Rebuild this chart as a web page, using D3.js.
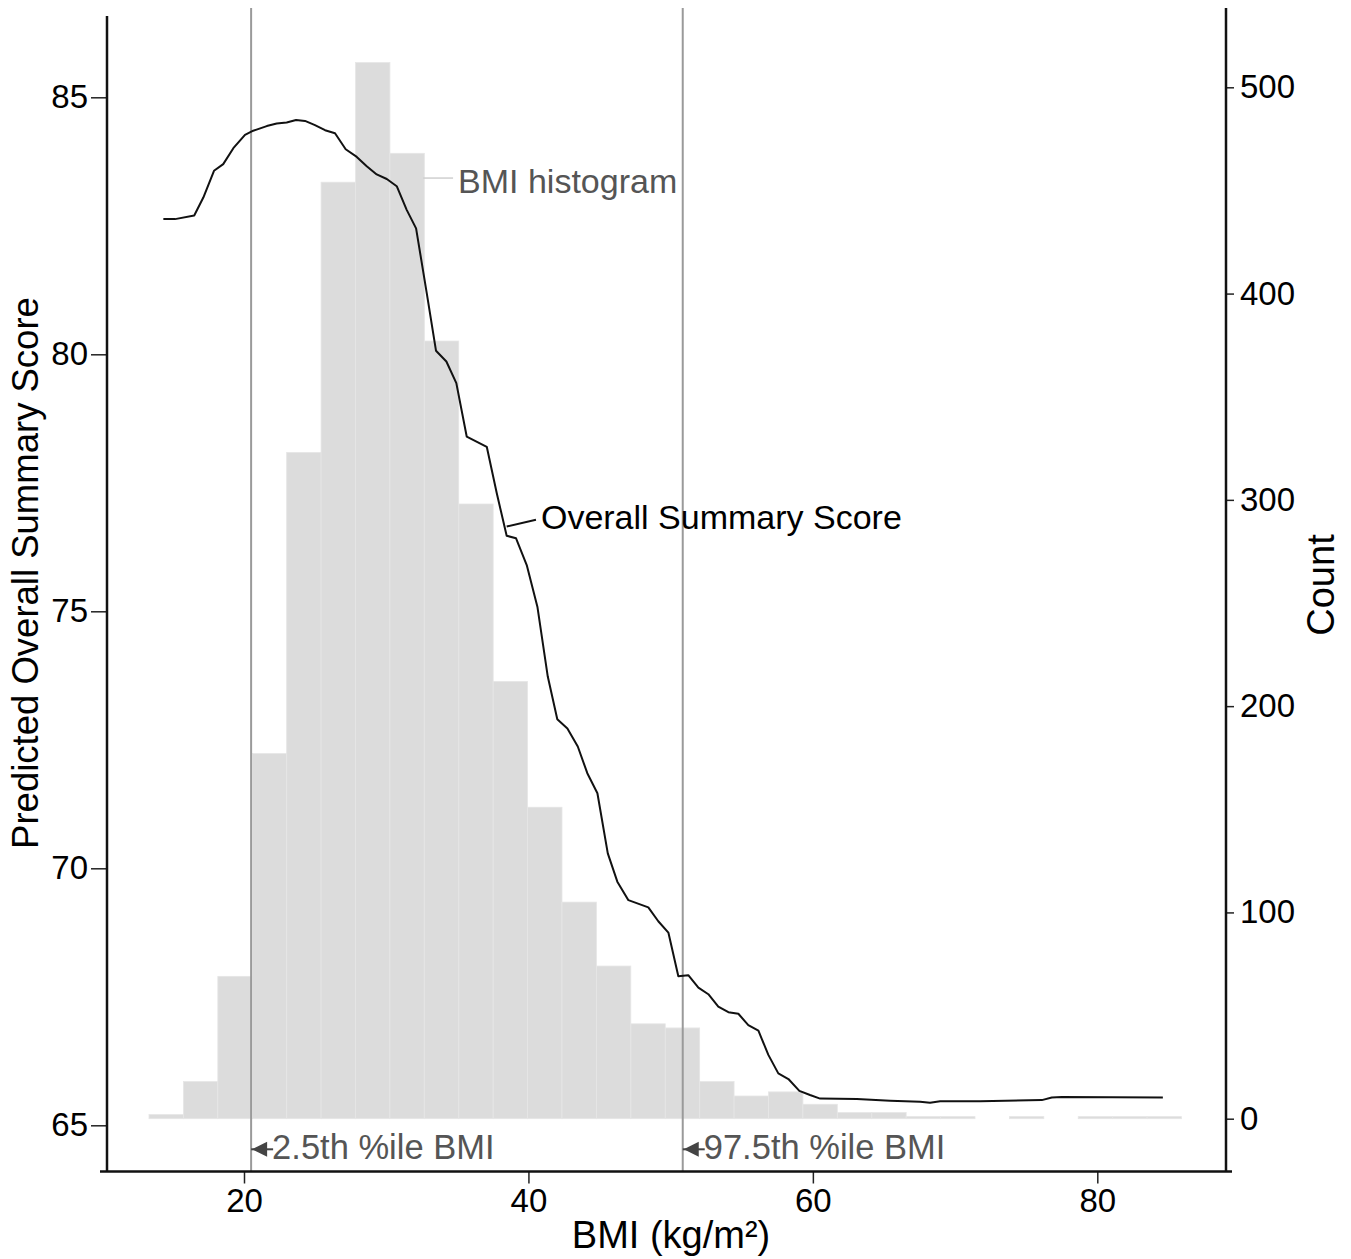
<!DOCTYPE html>
<html>
<head>
<meta charset="utf-8">
<script src="https://cdn.jsdelivr.net/npm/d3@7"></script>
<style>
  body { margin: 0; background: #fff; }
  text { font-family: "Liberation Sans", Arial, sans-serif; }
</style>
</head>
<body>
<div id="chart"></div>
<script>
// Histogram of BMI (30 bins)
var binStart = 13.32;
var binWidth = 2.42;
var binCounts = [2, 18, 69, 177, 323, 454, 512, 468, 377, 298, 212, 151, 105, 74, 46, 44, 18, 11, 13, 7, 3, 3, 1, 1, 0, 1, 0, 1, 1, 1];

// Predicted overall summary score curve
var curveBmi = [14.33, 15.15, 16.50, 17.14, 17.89, 18.54, 19.25, 20.07, 20.65, 21.60, 22.30, 23.00, 23.66, 24.29, 24.99, 25.70, 26.40, 27.15, 27.93, 28.63, 29.33, 30.04, 30.74, 31.44, 32.10, 32.85, 33.50, 34.23, 34.93, 35.66, 37.07, 37.77, 38.47, 39.13, 39.88, 40.63, 41.36, 42.03, 42.74, 43.47, 44.14, 44.85, 45.58, 46.25, 47.03, 48.43, 49.13, 49.84, 50.54, 51.24, 51.95, 52.65, 53.35, 54.06, 54.76, 55.46, 56.17, 56.87, 57.57, 58.28, 59.05, 59.80, 60.51, 63.09, 65.43, 67.54, 68.24, 68.95, 71.76, 76.10, 76.80, 77.50, 84.61];
var curveScore = [82.63, 82.63, 82.70, 83.05, 83.57, 83.70, 84.01, 84.27, 84.35, 84.44, 84.49, 84.51, 84.56, 84.54, 84.46, 84.36, 84.30, 83.99, 83.84, 83.66, 83.50, 83.41, 83.27, 82.81, 82.45, 81.19, 80.07, 79.86, 79.44, 78.40, 78.20, 77.30, 76.47, 76.42, 75.90, 75.09, 73.73, 72.90, 72.72, 72.37, 71.85, 71.46, 70.29, 69.74, 69.38, 69.24, 68.97, 68.75, 67.90, 67.92, 67.68, 67.55, 67.31, 67.20, 67.17, 66.95, 66.84, 66.37, 66.01, 65.90, 65.67, 65.59, 65.52, 65.51, 65.48, 65.46, 65.44, 65.47, 65.47, 65.49, 65.54, 65.55, 65.54];

// Percentile reference lines
var pctLabels = ["2.5th %ile BMI", "97.5th %ile BMI"];
var pctValues = [20.5, 50.85];

// Tick labels
var xTicks = [20, 40, 60, 80];
var yLeftTicks = [65, 70, 75, 80, 85];
var yRightTicks = [0, 100, 200, 300, 400, 500];

var svgWidth = 1351;
var svgHeight = 1259;

// frame edges
var leftEdge = 107, rightEdge = 1226, bottomEdge = 1171.5;

var svg = d3.select("#chart")
  .append("svg")
  .attr("width", svgWidth)
  .attr("height", svgHeight);

var x = d3.scaleLinear().domain([20, 80]).range([244, 1097.3]);
var yLeft = d3.scaleLinear().domain([65, 85]).range([1125.3, 97.3]);
var yRight = d3.scaleLinear().domain([0, 500]).range([1118.7, 87.3]);

// histogram bars
var bins = binCounts.map(function (c, i) {
  return { x0: binStart + i * binWidth, x1: binStart + (i + 1) * binWidth, count: c };
});

svg.append("g")
  .selectAll("rect")
  .data(bins.filter(d => d.count > 0))
  .enter()
  .append("rect")
  .attr("x", d => x(d.x0))
  .attr("width", d => x(d.x1) - x(d.x0))
  .attr("y", d => yRight(d.count))
  .attr("height", d => yRight(0) - yRight(d.count))
  .attr("fill", "#dcdcdc")
  .attr("stroke", "#e6e6e6")
  .attr("stroke-width", 0.8);

// percentile lines
svg.append("g")
  .selectAll("line")
  .data(pctValues)
  .enter()
  .append("line")
  .attr("x1", d => x(d))
  .attr("x2", d => x(d))
  .attr("y1", 8)
  .attr("y2", bottomEdge)
  .attr("stroke", "#9a9a9a")
  .attr("stroke-width", 2);

// score curve
var line = d3.line()
  .x(d => x(d[0]))
  .y(d => yLeft(d[1]));

svg.append("path")
  .datum(curveBmi.map((b, i) => [b, curveScore[i]]))
  .attr("d", line)
  .attr("fill", "none")
  .attr("stroke", "#111")
  .attr("stroke-width", 2)
  .attr("stroke-linejoin", "round");

// axes
var bottomAxis = d3.axisBottom(x).tickValues(xTicks).tickSize(12).tickPadding(5);
var leftAxis = d3.axisLeft(yLeft).tickValues(yLeftTicks).tickSize(16).tickPadding(3);
var rightAxis = d3.axisRight(yRight).tickValues(yRightTicks).tickSize(8).tickPadding(6);

var gx = svg.append("g")
  .attr("transform", `translate(0, ${bottomEdge})`)
  .call(bottomAxis);
var gl = svg.append("g")
  .attr("transform", `translate(${leftEdge}, 0)`)
  .call(leftAxis);
var gr = svg.append("g")
  .attr("transform", `translate(${rightEdge}, 0)`)
  .call(rightAxis);

[gx, gl, gr].forEach(function (g) {
  g.select(".domain").remove();
  g.selectAll(".tick line").attr("stroke", "#222").attr("stroke-width", 1.5);
  g.selectAll(".tick text")
    .attr("fill", "#000")
    .style("font-size", "33px")
    .style("font-family", "'Liberation Sans', Arial, sans-serif");
});

// axis lines (frame)
svg.append("line")
  .attr("x1", 100).attr("x2", 1232)
  .attr("y1", bottomEdge).attr("y2", bottomEdge)
  .attr("stroke", "#111").attr("stroke-width", 2.5);
svg.append("line")
  .attr("x1", leftEdge).attr("x2", leftEdge)
  .attr("y1", 16).attr("y2", bottomEdge)
  .attr("stroke", "#111").attr("stroke-width", 2.5);
svg.append("line")
  .attr("x1", rightEdge).attr("x2", rightEdge)
  .attr("y1", 8).attr("y2", bottomEdge)
  .attr("stroke", "#111").attr("stroke-width", 2.5);

// percentile arrows + labels
var arrowY = 1149.3;
pctValues.forEach(function (v, i) {
  var px = x(v);
  svg.append("line")
    .attr("x1", px).attr("x2", px + 22)
    .attr("y1", arrowY).attr("y2", arrowY)
    .attr("stroke", "#444").attr("stroke-width", 2);
  svg.append("path")
    .attr("d", `M${px + 1},${arrowY} L${px + 16},${arrowY - 7.5} L${px + 16},${arrowY + 7.5} Z`)
    .attr("fill", "#444");
  svg.append("text")
    .attr("x", px + 21)
    .attr("y", 1159)
    .attr("fill", "#555")
    .style("font-size", "34.5px")
    .text(pctLabels[i]);
});

// histogram label with leader
svg.append("line")
  .attr("x1", x(32.6)).attr("x2", x(34.7))
  .attr("y1", yRight(456)).attr("y2", yRight(456))
  .attr("stroke", "#cfcfcf").attr("stroke-width", 1.5);
svg.append("text")
  .attr("x", x(35.05))
  .attr("y", yRight(456) + 15)
  .attr("fill", "#555")
  .style("font-size", "34px")
  .text("BMI histogram");

// curve label with leader
svg.append("line")
  .attr("x1", x(38.47)).attr("x2", x(40.53))
  .attr("y1", yLeft(76.65)).attr("y2", yLeft(76.78))
  .attr("stroke", "#111").attr("stroke-width", 2);
svg.append("text")
  .attr("x", x(40.88))
  .attr("y", yLeft(76.6))
  .attr("fill", "#000")
  .style("font-size", "34px")
  .text("Overall Summary Score");

// axis titles
svg.append("text")
  .attr("x", 671)
  .attr("y", 1248)
  .attr("text-anchor", "middle")
  .style("font-size", "38px")
  .text("BMI (kg/m²)");

svg.append("text")
  .attr("transform", "translate(38, 573) rotate(-90)")
  .attr("text-anchor", "middle")
  .style("font-size", "36.5px")
  .text("Predicted Overall Summary Score");

svg.append("text")
  .attr("transform", "translate(1334, 585) rotate(-90)")
  .attr("text-anchor", "middle")
  .style("font-size", "38px")
  .text("Count");
</script>
</body>
</html>
